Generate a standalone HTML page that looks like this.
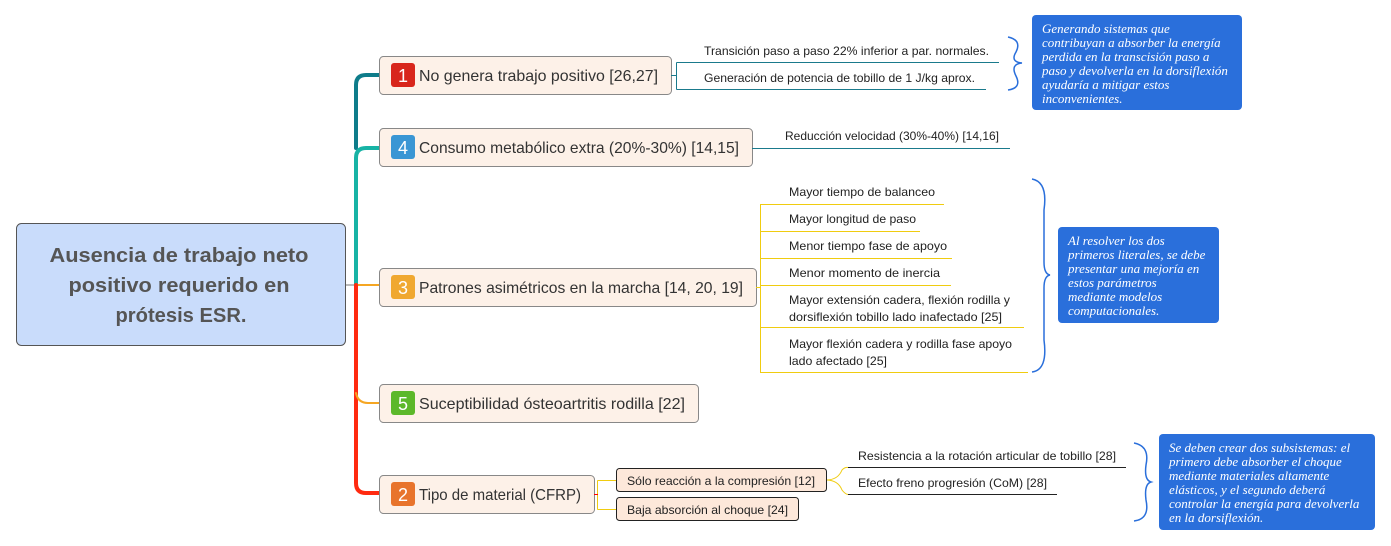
<!DOCTYPE html>
<html><head><meta charset="utf-8"><style>
html,body{margin:0;padding:0;background:#fff;width:1391px;height:546px;overflow:hidden}
svg{display:block}
.t{font-family:"Liberation Sans",sans-serif}
.n{font-size:12px;fill:#222}
.m{font-size:16px;fill:#333}
.note{font-family:"Liberation Serif",serif;font-style:italic;font-size:13px;fill:#fff}
</style></head><body>
<svg width="1391" height="546" viewBox="0 0 1391 546">
<g fill="none" stroke-linecap="round">
<line x1="345" y1="285" x2="356" y2="285" stroke="#777" stroke-width="1"/>
<path d="M356 148 V85 Q356 75 366 75 H379" stroke="#0e7c8a" stroke-width="4"/>
<path d="M356 285 V158 Q356 148 366 148 H379" stroke="#17b3a5" stroke-width="4"/>
<path d="M356 285 H379" stroke="#f5a623" stroke-width="2"/>
<path d="M356 285 V483 Q356 493 366 493 H379" stroke="#ff2a10" stroke-width="4"/>
<path d="M356 393 Q358 403 368 403 H379" stroke="#f5a623" stroke-width="2"/>
</g>
<g>
<rect x="16.5" y="223.5" width="329" height="122" rx="5" fill="#c9dcfb" stroke="#555"/>
<text class="t" x="179" y="262" text-anchor="middle" font-size="20" font-weight="bold" fill="#555" textLength="259" lengthAdjust="spacingAndGlyphs">Ausencia de trabajo neto</text>
<text class="t" x="179" y="292" text-anchor="middle" font-size="20" font-weight="bold" fill="#555" textLength="221" lengthAdjust="spacingAndGlyphs">positivo requerido en</text>
<text class="t" x="181" y="322" text-anchor="middle" font-size="20" font-weight="bold" fill="#555" textLength="131" lengthAdjust="spacingAndGlyphs">prótesis ESR.</text>
</g>
<g>
<rect x="379.5" y="56.5" width="292" height="38" rx="4" fill="#fdf1e8" stroke="#888"/>
<rect x="391" y="63" width="24" height="24" rx="3" fill="#d8261c"/>
<text class="t" x="403" y="82" text-anchor="middle" font-size="18" fill="#fff">1</text>
<text class="t m" x="419" y="81" textLength="239" lengthAdjust="spacingAndGlyphs">No genera trabajo positivo [26,27]</text>
</g>
<g>
<rect x="379.5" y="128.5" width="373" height="38" rx="4" fill="#fdf1e8" stroke="#888"/>
<rect x="391" y="135" width="24" height="24" rx="3" fill="#3a96d4"/>
<text class="t" x="403" y="154" text-anchor="middle" font-size="18" fill="#fff">4</text>
<text class="t m" x="419" y="153" textLength="320" lengthAdjust="spacingAndGlyphs">Consumo metabólico extra (20%-30%) [14,15]</text>
</g>
<g>
<rect x="379.5" y="268.5" width="377" height="38" rx="4" fill="#fdf1e8" stroke="#888"/>
<rect x="391" y="275" width="24" height="24" rx="3" fill="#f0a830"/>
<text class="t" x="403" y="294" text-anchor="middle" font-size="18" fill="#fff">3</text>
<text class="t m" x="419" y="293" textLength="324" lengthAdjust="spacingAndGlyphs">Patrones asimétricos en la marcha [14, 20, 19]</text>
</g>
<g>
<rect x="379.5" y="384.5" width="319" height="38" rx="4" fill="#fdf1e8" stroke="#888"/>
<rect x="391" y="391" width="24" height="24" rx="3" fill="#5cb82a"/>
<text class="t" x="403" y="410" text-anchor="middle" font-size="18" fill="#fff">5</text>
<text class="t m" x="419" y="409" textLength="266" lengthAdjust="spacingAndGlyphs">Suceptibilidad ósteoartritis rodilla [22]</text>
</g>
<g>
<rect x="379.5" y="475.5" width="215" height="38" rx="4" fill="#fdf1e8" stroke="#888"/>
<rect x="391" y="482" width="24" height="24" rx="3" fill="#e8742c"/>
<text class="t" x="403" y="501" text-anchor="middle" font-size="18" fill="#fff">2</text>
<text class="t m" x="419" y="500" textLength="162" lengthAdjust="spacingAndGlyphs">Tipo de material (CFRP)</text>
</g>
<g fill="none" stroke="#1a7a8c">
<path d="M671 75.5 H676.5 M676.5 62.5 V89.5 M676.5 62.5 H999 M676.5 89.5 H986"/>
<line x1="752" y1="148.5" x2="1010" y2="148.5"/>
</g>
<text class="t n" x="704" y="55" textLength="285" lengthAdjust="spacingAndGlyphs">Transición paso a paso 22% inferior a par. normales.</text>
<text class="t n" x="704" y="82" textLength="271" lengthAdjust="spacingAndGlyphs">Generación de potencia de tobillo de 1 J/kg aprox.</text>
<text class="t n" x="785" y="140" textLength="214" lengthAdjust="spacingAndGlyphs">Reducción velocidad (30%-40%) [14,16]</text>
<g fill="none" stroke="#f0cc10">
<path d="M756 287.5 H760.5 M760.5 204 V372.5"/>
<path d="M760 204.5 H944 M760 231.5 H920 M760 258.5 H952 M760 285.5 H951 M760 327.5 H1024 M760 372.5 H1028"/>
</g>
<g class="t n">
<text x="789" y="196" textLength="146" lengthAdjust="spacingAndGlyphs">Mayor tiempo de balanceo</text>
<text x="789" y="223" textLength="127" lengthAdjust="spacingAndGlyphs">Mayor longitud de paso</text>
<text x="789" y="250" textLength="158" lengthAdjust="spacingAndGlyphs">Menor tiempo fase de apoyo</text>
<text x="789" y="277" textLength="151" lengthAdjust="spacingAndGlyphs">Menor momento de inercia</text>
<text x="789" y="304" textLength="221" lengthAdjust="spacingAndGlyphs">Mayor extensión cadera, flexión rodilla y</text>
<text x="789" y="321" textLength="213" lengthAdjust="spacingAndGlyphs">dorsiflexión tobillo lado inafectado [25]</text>
<text x="789" y="348" textLength="223" lengthAdjust="spacingAndGlyphs">Mayor flexión cadera y rodilla fase apoyo</text>
<text x="789" y="365" textLength="98" lengthAdjust="spacingAndGlyphs">lado afectado [25]</text>
</g>
<g fill="none" stroke="#f0cc10">
<path d="M594 494.5 H597.5 M597.5 480.5 V509.5 M597.5 480.5 H616 M597.5 509.5 H616"/>
<path d="M826 480 Q838 480 842 470 Q845 467 848 467.5 M826 480 Q838 480 842 490 Q845 494 848 494.5"/>
</g>
<line x1="594" y1="494.5" x2="598" y2="494.5" stroke="#f00"/>
<g>
<rect x="616.5" y="468.5" width="210" height="23" rx="3" fill="#fde8da" stroke="#222"/>
<text class="t n" x="627" y="485" textLength="188" lengthAdjust="spacingAndGlyphs">Sólo reacción a la compresión [12]</text>
</g>
<g>
<rect x="616.5" y="497.5" width="182" height="23" rx="3" fill="#fde8da" stroke="#222"/>
<text class="t n" x="627" y="514" textLength="161" lengthAdjust="spacingAndGlyphs">Baja absorción al choque [24]</text>
</g>
<g stroke="#222" fill="none"><path d="M848 467.5 H1126 M848 494.5 H1057"/></g>
<text class="t n" x="858" y="460" textLength="258" lengthAdjust="spacingAndGlyphs">Resistencia a la rotación articular de tobillo [28]</text>
<text class="t n" x="858" y="487" textLength="189" lengthAdjust="spacingAndGlyphs">Efecto freno progresión (CoM) [28]</text>
<g fill="none" stroke="#2a6fdb" stroke-width="1.5">
<path d="M1008 37 Q1022 40 1016 52 Q1010 62 1022 63 Q1010 64 1016 76 Q1022 88 1008 90"/>
<path d="M1032 179 Q1048 182 1044 210 L1044 262 Q1044 274 1050 275 Q1044 276 1044 288 L1044 340 Q1048 370 1032 372"/>
<path d="M1134 443 Q1150 446 1146 465 Q1144 480 1151 482 Q1144 484 1146 500 Q1150 519 1134 521"/>
</g>
<g>
<rect x="1032" y="15" width="210" height="95" rx="4" fill="#2a6fdb"/>
<text class="note" x="1042" y="33">Generando sistemas que</text>
<text class="note" x="1042" y="47">contribuyan a absorber la energía</text>
<text class="note" x="1042" y="61">perdida en la transcisión paso a</text>
<text class="note" x="1042" y="75">paso y devolverla en la dorsiflexión</text>
<text class="note" x="1042" y="89">ayudaría a mitigar estos</text>
<text class="note" x="1042" y="103">inconvenientes.</text>
</g>
<g>
<rect x="1058" y="227" width="161" height="96" rx="4" fill="#2a6fdb"/>
<text class="note" x="1068" y="245">Al resolver los dos</text>
<text class="note" x="1068" y="259">primeros literales, se debe</text>
<text class="note" x="1068" y="273">presentar una mejoría en</text>
<text class="note" x="1068" y="287">estos parámetros</text>
<text class="note" x="1068" y="301">mediante modelos</text>
<text class="note" x="1068" y="315">computacionales.</text>
</g>
<g>
<rect x="1159" y="434" width="216" height="96" rx="4" fill="#2a6fdb"/>
<text class="note" x="1169" y="452">Se deben crear dos subsistemas: el</text>
<text class="note" x="1169" y="466">primero debe absorber el choque</text>
<text class="note" x="1169" y="480">mediante materiales altamente</text>
<text class="note" x="1169" y="494">elásticos, y el segundo deberá</text>
<text class="note" x="1169" y="508">controlar la energía para devolverla</text>
<text class="note" x="1169" y="522">en la dorsiflexión.</text>
</g>
</svg>
</body></html>
